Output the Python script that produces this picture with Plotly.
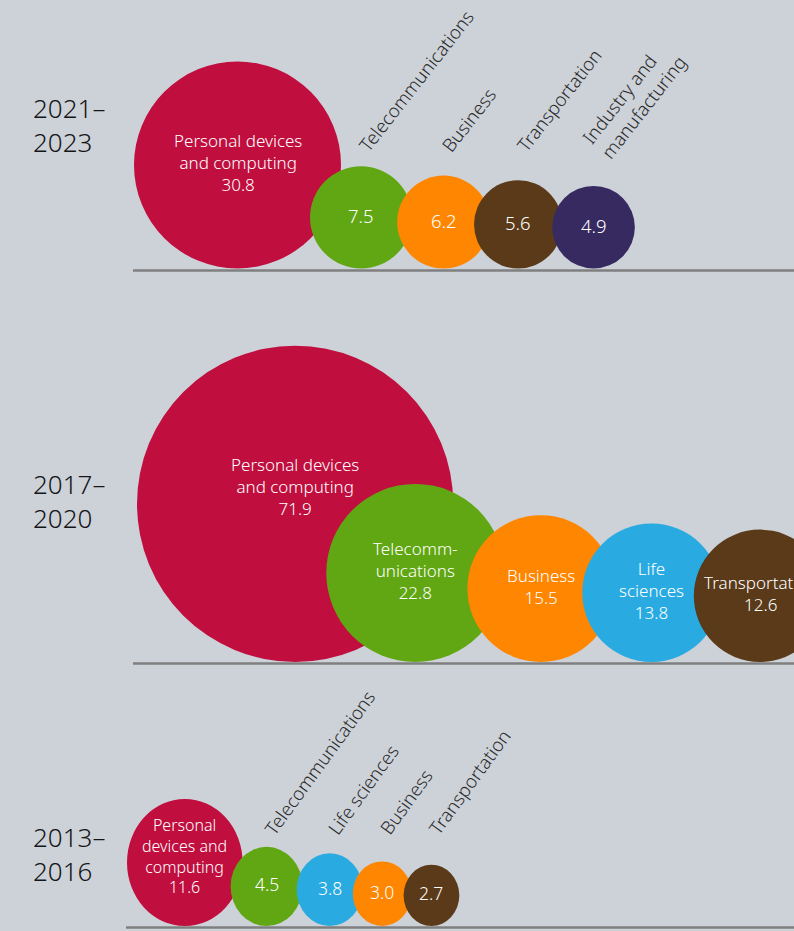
import math
import plotly.graph_objects as go

# ---------------- data ----------------
periods = ["2021–2023", "2017–2020", "2013–2016"]

cats_2021 = ["Personal devices and computing", "Telecommunications", "Business",
             "Transportation", "Industry and manufacturing"]
vals_2021 = [30.8, 7.5, 6.2, 5.6, 4.9]

cats_2017 = ["Personal devices and computing", "Telecommunications", "Business",
             "Life sciences", "Transportation"]
vals_2017 = [71.9, 22.8, 15.5, 13.8, 12.6]

cats_2013 = ["Personal devices and computing", "Telecommunications", "Life sciences",
             "Business", "Transportation"]
vals_2013 = [11.6, 4.5, 3.8, 3.0, 2.7]

# ---------------- style ----------------
COLORS = {
    "Personal devices and computing": "#c00e3e",
    "Telecommunications": "#60a713",
    "Business": "#ff8600",
    "Transportation": "#5a3a19",
    "Industry and manufacturing": "#372a61",
    "Life sciences": "#29abe2",
}
BG = "#cdd2d9"
FONT = "Noto Sans"
W, H = 794, 931
K = 18.65            # px per sqrt(value)  (bubble area ~ value)

INNER_WRAP = {
    "2021–2023": {"Personal devices and computing": ["Personal devices", "and computing"]},
    "2017–2020": {"Personal devices and computing": ["Personal devices", "and computing"],
                  "Telecommunications": ["Telecomm-", "unications"],
                  "Business": ["Business"],
                  "Life sciences": ["Life", "sciences"],
                  "Transportation": ["Transportation"]},
    "2013–2016": {"Personal devices and computing": ["Personal", "devices and", "computing"]},
}
ROT_WRAP = {"Industry and manufacturing": ["Industry and", "manufacturing"]}

panels = [
    dict(period=periods[0], cats=cats_2021, vals=vals_2021, baseline=268.5, left=134,
         overlaps=[31, 15, 16, 10], squeeze=1.0, year_y=124.5,
         line_x0=133, line_y=270.5, angle=52, row_y=154, inner_font=17, num_font=18.5,
         label_dy={0: -3}),
    dict(period=periods[1], cats=cats_2017, vals=vals_2017, baseline=662, left=137,
         overlaps=[127, 37, 32, 27], squeeze=1.0, year_y=501,
         line_x0=133, line_y=663.5, angle=52, row_y=0, inner_font=17, num_font=18.5,
         label_dy={0: -17}),
    dict(period=periods[2], cats=cats_2013, vals=vals_2013, baseline=926, left=127,
         overlaps=[12, 6, 10, 8], squeeze=0.91, year_y=854,
         line_x0=126, line_y=927.5, angle=54, row_y=837, inner_font=16, num_font=17.5,
         label_dy={0: -6}),
]

shapes, annotations = [], []
ROT_FONT = 18.5
LS = 1.3   # plotly line spacing factor


def rot_label(lines, sx, sy, ang, fs):
    """Rotated (left aligned) label whose first baseline starts at (sx, sy)."""
    t = math.radians(ang)
    s, c = math.sin(t), math.cos(t)
    m = len(lines)
    a, d, p = 0.85 * fs, 0.3 * fs, 2
    bottom = (m - 1) * LS * fs + d
    annotations.append(dict(
        x=sx - (p * c + a * s), y=sy + p * s + bottom * c, xref="x", yref="y",
        xanchor="left", yanchor="bottom", align="left", text="<br>".join(lines),
        showarrow=False, textangle=-ang,
        font=dict(family=FONT, size=fs, color="#2a2a2a", weight=300)))


for P in panels:
    # baseline
    shapes.append(dict(type="line", xref="x", yref="y", x0=P["line_x0"], x1=W,
                       y0=P["line_y"], y1=P["line_y"],
                       line=dict(color="#7f7f7f", width=2.5), layer="below"))
    # year label
    yl = P["period"].split("–")
    annotations.append(dict(
        x=31, y=P["year_y"], xref="x", yref="y", xanchor="left", yanchor="middle",
        align="left", text=yl[0] + "–<br>" + yl[1], showarrow=False,
        font=dict(family=FONT, size=26, color="#151515", weight=300)))

    prev_right = None
    inner_wrap = INNER_WRAP[P["period"]]
    for j, (cat, v) in enumerate(zip(P["cats"], P["vals"])):
        r = K * math.sqrt(v)
        rx = r * P["squeeze"]
        x0 = P["left"] if j == 0 else prev_right - P["overlaps"][j - 1]
        cx = x0 + rx
        prev_right = x0 + 2 * rx
        cy = P["baseline"] - r
        shapes.append(dict(type="circle", xref="x", yref="y",
                           x0=x0, x1=x0 + 2 * rx, y0=P["baseline"] - 2 * r,
                           y1=P["baseline"], fillcolor=COLORS[cat],
                           line=dict(width=0), layer="above"))
        inside = cat in inner_wrap
        txt_lines = (inner_wrap[cat] if inside else []) + [f"{v:.1f}"]
        dy = P["label_dy"].get(j, -2)
        fs = P["inner_font"] if inside else P["num_font"]
        annotations.append(dict(
            x=cx, y=cy + dy, xref="x", yref="y", xanchor="center", yanchor="middle",
            align="center", text="<br>".join(txt_lines), showarrow=False,
            font=dict(family=FONT, size=fs, color="white", weight=300)))
        if not inside:
            rl = ROT_WRAP.get(cat, [cat])
            m = len(rl)
            t = math.radians(P["angle"])
            lead = LS * ROT_FONT
            off = -(m - 1) / 2 * lead
            rot_label(rl, cx + 3 + off * math.sin(t), P["row_y"] + off * math.cos(t),
                      P["angle"], ROT_FONT)

fig = go.Figure()
fig.add_trace(go.Scatter(x=[0, W], y=[0, H], mode="markers",
                         marker=dict(opacity=0), hoverinfo="skip", showlegend=False))
fig.update_layout(
    width=W, height=H, margin=dict(l=0, r=0, t=0, b=0),
    paper_bgcolor=BG, plot_bgcolor=BG, showlegend=False,
    xaxis=dict(range=[0, W], visible=False, fixedrange=True),
    yaxis=dict(range=[H, 0], visible=False, fixedrange=True),
    shapes=shapes, annotations=annotations,
)
fig.write_html("out.html", config={"displayModeBar": False},
               post_script="document.body.style.margin='0';document.body.style.overflow='hidden';")
